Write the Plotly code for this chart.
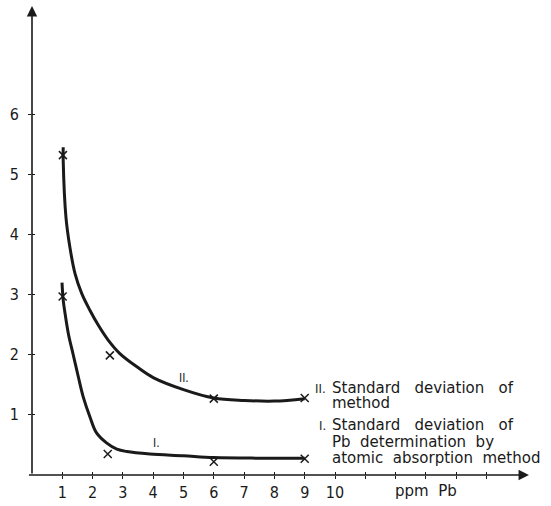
import plotly.graph_objects as go

# Curve II: standard deviation of method (hand-drawn smooth curve)
curve2_x = [1.03, 1.03, 1.12, 1.25, 1.42, 1.64, 1.91, 2.19, 2.52, 2.90, 3.46, 4.0, 5.0, 6.0, 7.0, 8.0, 9.0]
curve2_y = [5.45, 5.23, 4.29, 3.79, 3.35, 3.02, 2.74, 2.49, 2.24, 2.02, 1.80, 1.62, 1.42, 1.28, 1.24, 1.23, 1.27]
# Curve I: standard deviation of Pb determination by AAS
curve1_x = [0.99, 1.03, 1.09, 1.2, 1.36, 1.53, 1.69, 1.91, 2.13, 2.47, 2.8, 3.13, 3.89, 5.0, 6.0, 7.5, 9.0]
curve1_y = [3.2, 2.91, 2.69, 2.35, 2.0, 1.63, 1.30, 0.97, 0.70, 0.53, 0.43, 0.39, 0.35, 0.32, 0.29, 0.28, 0.28]

# measured points (x marks)
pts2_x = [1.02, 2.57, 6.0, 9.0]
pts2_y = [5.32, 1.99, 1.27, 1.28]
pts1_x = [1.01, 2.5, 6.0, 9.0]
pts1_y = [2.97, 0.35, 0.22, 0.27]

x_ticks = [1, 2, 3, 4, 5, 6, 7, 8, 9, 10, 11, 12, 13, 14, 15]
x_labels = ["1", "2", "3", "4", "5", "6", "7", "8", "9", "10", "", "", "", "", ""]
y_ticks = [1, 2, 3, 4, 5, 6]

FONT = "DejaVu Sans Condensed, DejaVu Sans, sans-serif"
TFONT = "DejaVu Sans, sans-serif"
INK = "#1a1a1a"

fig = go.Figure()
fig.add_trace(go.Scatter(x=curve2_x, y=curve2_y, mode="lines",
                         line=dict(color=INK, width=3, shape="spline", smoothing=1.0),
                         hoverinfo="skip"))
fig.add_trace(go.Scatter(x=curve1_x, y=curve1_y, mode="lines",
                         line=dict(color=INK, width=3, shape="spline", smoothing=1.0),
                         hoverinfo="skip"))
fig.add_trace(go.Scatter(x=pts2_x + pts1_x, y=pts2_y + pts1_y, mode="markers",
                         marker=dict(symbol="x-thin", size=8,
                                     line=dict(color=INK, width=1.5))))
# invisible trace to activate the overlay axis for crossing ticks
fig.add_trace(go.Scatter(x=[0], y=[0], xaxis="x2", yaxis="y2", mode="markers",
                         marker=dict(opacity=0), hoverinfo="skip"))

XR = [0, 16.6]
YR = [0, 7.9]
fig.update_layout(
    width=551, height=506,
    margin=dict(l=32, r=16, t=0, b=31),
    paper_bgcolor="white", plot_bgcolor="white",
    showlegend=False,
    font=dict(family=FONT, size=16, color=INK),
    xaxis=dict(range=XR, tickvals=x_ticks, ticktext=x_labels, ticks="outside",
               ticklen=3, tickwidth=1.2, tickcolor=INK, showgrid=False,
               zeroline=False, showline=False, tickfont=dict(size=16)),
    yaxis=dict(range=YR, tickvals=y_ticks, ticks="outside", ticklen=3,
               tickwidth=1.2, tickcolor=INK, showgrid=False, zeroline=False,
               showline=False, tickfont=dict(size=16), ticklabelstandoff=6),
    xaxis2=dict(range=XR, overlaying="x", tickvals=x_ticks, ticks="inside",
                ticklen=3, tickwidth=1.2, tickcolor=INK, showticklabels=False,
                showgrid=False, zeroline=False, side="bottom", anchor="y2"),
    yaxis2=dict(range=YR, overlaying="y", tickvals=y_ticks, ticks="inside",
                ticklen=3, tickwidth=1.2, tickcolor=INK, showticklabels=False,
                showgrid=False, zeroline=False, anchor="x2"),
)

ann = []
# axes drawn as arrows
ann.append(dict(x=16.4, y=0, ax=-0.15, ay=0, xref="x", yref="y", axref="x", ayref="y",
                showarrow=True, arrowhead=2, arrowsize=1.3, arrowwidth=1.6,
                arrowcolor=INK, text=""))
ann.append(dict(x=0, y=7.8, ax=0, ay=0, xref="x", yref="y", axref="x", ayref="y",
                showarrow=True, arrowhead=2, arrowsize=1.3, arrowwidth=1.6,
                arrowcolor=INK, text=""))
# axis labels
ann.append(dict(x=-0.42, y=7.25, xref="x", yref="y", text="%", showarrow=False,
                font=dict(size=13)))
ann.append(dict(x=13.0, y=0, xref="x", yref="y", yanchor="top", yshift=-5,
                text="ppm  Pb", showarrow=False, font=dict(family=TFONT, size=15)))
# curve labels
ann.append(dict(x=5.0, y=1.62, text="II.", showarrow=False, font=dict(size=12)))
ann.append(dict(x=4.1, y=0.53, text="I.", showarrow=False, font=dict(size=12)))
# legend texts
tx = 9.83
lines = [
    (1.445, "Standard   deviation   of"),
    (1.20, "method"),
    (0.83, "Standard   deviation   of"),
    (0.55, "Pb  determination  by"),
    (0.28, "atomic  absorption  method"),
]
for yv, t in lines:
    ann.append(dict(x=tx, y=yv, xref="x", yref="y", xanchor="left", text=t,
                    showarrow=False, font=dict(family=TFONT, size=15)))
ann.append(dict(x=tx, y=1.445, xref="x", yref="y", xanchor="right", xshift=-2,
                text="II.", showarrow=False, font=dict(size=13)))
ann.append(dict(x=tx, y=0.83, xref="x", yref="y", xanchor="right", xshift=-2,
                text="I.", showarrow=False, font=dict(size=13)))
fig.update_layout(annotations=ann)

fig.write_html("out.html", config={"displayModeBar": False},
               post_script="document.body.style.margin='0';")
